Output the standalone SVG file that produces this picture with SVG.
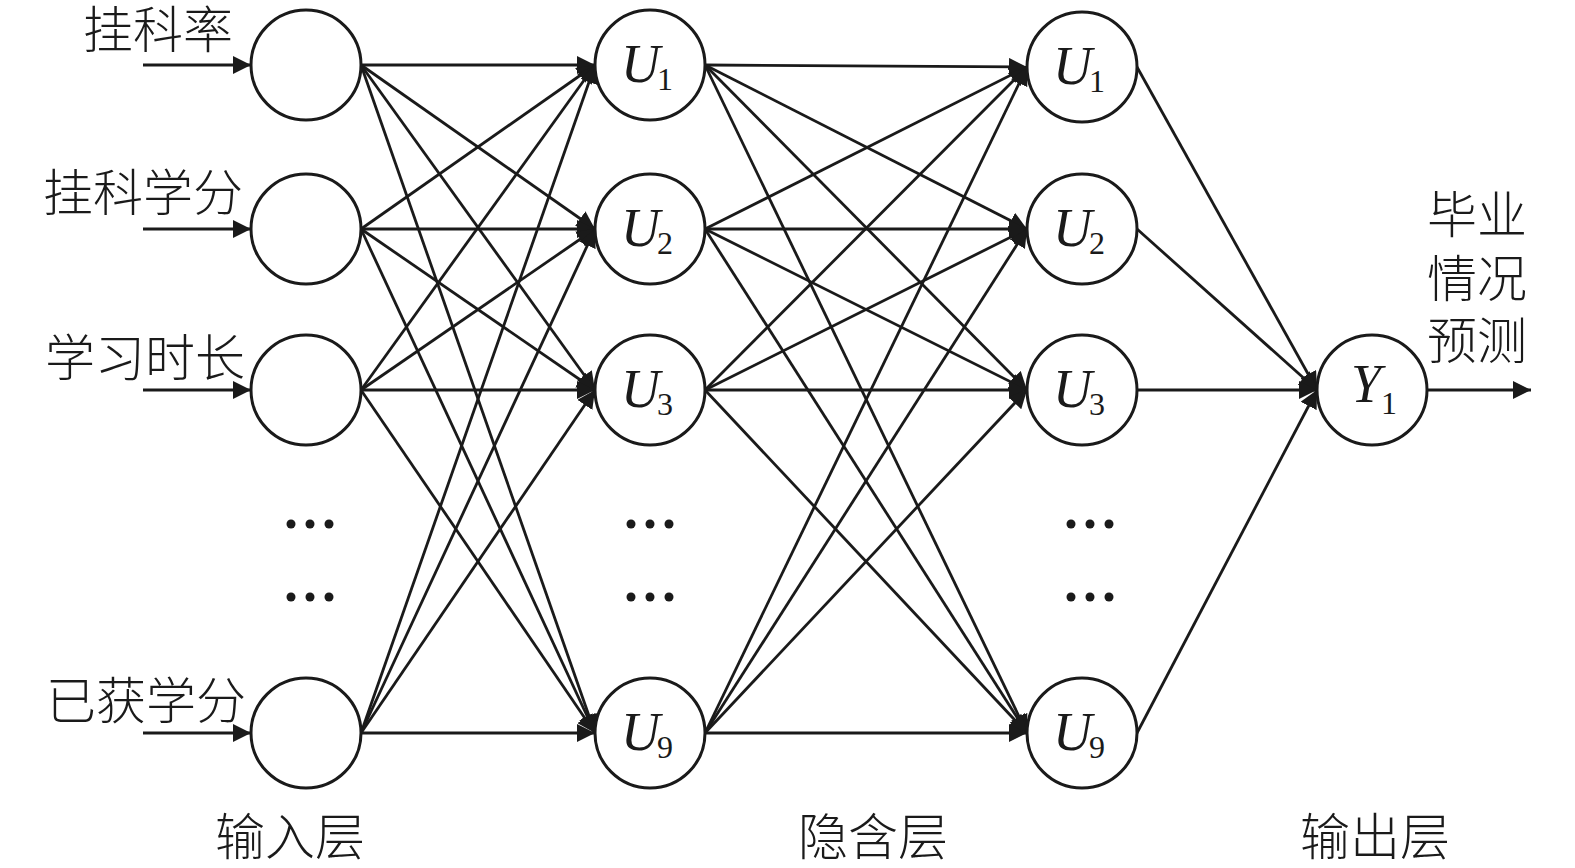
<svg xmlns="http://www.w3.org/2000/svg" width="1575" height="868" viewBox="0 0 1575 868">
<style>
.n{fill:#fff;stroke:#1a1a1a;stroke-width:3}
.c line{stroke:#1a1a1a;stroke-width:2.8}
.a{marker-end:url(#ah)}
.cj{font-family:"Liberation Serif","Noto Sans CJK SC",serif;font-size:50px;font-weight:300;fill:#1a1a1a}
.v{font-family:"Liberation Serif",serif;font-style:italic;font-size:54px;fill:#1a1a1a}
.s{font-family:"Liberation Serif",serif;font-size:32px;fill:#1a1a1a}
.d{fill:#1a1a1a}
</style>
<defs>
<marker id="ah" markerUnits="userSpaceOnUse" markerWidth="20" markerHeight="18" refX="18" refY="9" orient="auto">
<path d="M0,0 L18,9 L0,18 z" fill="#1a1a1a"/>
</marker>
</defs>
<rect width="1575" height="868" fill="#fff"/>
<g id="connectors" class="c">
<line class="a" x1="143" y1="65" x2="251" y2="65"/>
<line class="a" x1="143" y1="229" x2="251" y2="229"/>
<line class="a" x1="143" y1="390" x2="251" y2="390"/>
<line class="a" x1="143" y1="733" x2="251" y2="733"/>
<line class="a" x1="361" y1="65" x2="595" y2="65"/>
<line class="a" x1="361" y1="65" x2="595" y2="229"/>
<line class="a" x1="361" y1="65" x2="595" y2="390"/>
<line class="a" x1="361" y1="65" x2="595" y2="733"/>
<line class="a" x1="361" y1="229" x2="595" y2="65"/>
<line class="a" x1="361" y1="229" x2="595" y2="229"/>
<line class="a" x1="361" y1="229" x2="595" y2="390"/>
<line class="a" x1="361" y1="229" x2="595" y2="733"/>
<line class="a" x1="361" y1="390" x2="595" y2="65"/>
<line class="a" x1="361" y1="390" x2="595" y2="229"/>
<line class="a" x1="361" y1="390" x2="595" y2="390"/>
<line class="a" x1="361" y1="390" x2="595" y2="733"/>
<line class="a" x1="361" y1="733" x2="595" y2="65"/>
<line class="a" x1="361" y1="733" x2="595" y2="229"/>
<line class="a" x1="361" y1="733" x2="595" y2="390"/>
<line class="a" x1="361" y1="733" x2="595" y2="733"/>
<line class="a" x1="705" y1="65" x2="1027" y2="67"/>
<line class="a" x1="705" y1="65" x2="1027" y2="229"/>
<line class="a" x1="705" y1="65" x2="1027" y2="390"/>
<line class="a" x1="705" y1="65" x2="1027" y2="733"/>
<line class="a" x1="705" y1="229" x2="1027" y2="67"/>
<line class="a" x1="705" y1="229" x2="1027" y2="229"/>
<line class="a" x1="705" y1="229" x2="1027" y2="390"/>
<line class="a" x1="705" y1="229" x2="1027" y2="733"/>
<line class="a" x1="705" y1="390" x2="1027" y2="67"/>
<line class="a" x1="705" y1="390" x2="1027" y2="229"/>
<line class="a" x1="705" y1="390" x2="1027" y2="390"/>
<line class="a" x1="705" y1="390" x2="1027" y2="733"/>
<line class="a" x1="705" y1="733" x2="1027" y2="67"/>
<line class="a" x1="705" y1="733" x2="1027" y2="229"/>
<line class="a" x1="705" y1="733" x2="1027" y2="390"/>
<line class="a" x1="705" y1="733" x2="1027" y2="733"/>
<line class="a" x1="1137" y1="67" x2="1317" y2="390"/>
<line class="a" x1="1137" y1="229" x2="1317" y2="390"/>
<line class="a" x1="1137" y1="390" x2="1317" y2="390"/>
<line class="a" x1="1137" y1="733" x2="1317" y2="390"/>
<line class="a" x1="1427" y1="390" x2="1531" y2="390"/>
</g>
<g id="in1"><circle class="n" cx="306" cy="65" r="55"/><text class="cj" x="83" y="48">挂科率</text></g>
<g id="in2"><circle class="n" cx="306" cy="229" r="55"/><text class="cj" x="43" y="211">挂科学分</text></g>
<g id="in3"><circle class="n" cx="306" cy="390" r="55"/><text class="cj" x="45" y="376">学习时长</text></g>
<g id="in4"><circle class="n" cx="306" cy="733" r="55"/><text class="cj" x="46" y="719">已获学分</text></g>
<g id="in-dots"><circle class="d" cx="291" cy="524" r="4.5"/><circle class="d" cx="310" cy="524" r="4.5"/><circle class="d" cx="329" cy="524" r="4.5"/><circle class="d" cx="291" cy="597" r="4.5"/><circle class="d" cx="310" cy="597" r="4.5"/><circle class="d" cx="329" cy="597" r="4.5"/></g>
<g id="h1u1"><circle class="n" cx="650" cy="65" r="55"/><text class="v" x="621" y="82">U</text><text class="s" x="657" y="90">1</text></g>
<g id="h1u2"><circle class="n" cx="650" cy="229" r="55"/><text class="v" x="621" y="246">U</text><text class="s" x="657" y="254">2</text></g>
<g id="h1u3"><circle class="n" cx="650" cy="390" r="55"/><text class="v" x="621" y="407">U</text><text class="s" x="657" y="415">3</text></g>
<g id="h1u9"><circle class="n" cx="650" cy="733" r="55"/><text class="v" x="621" y="750">U</text><text class="s" x="657" y="758">9</text></g>
<g id="h1-dots"><circle class="d" cx="631" cy="524" r="4.5"/><circle class="d" cx="650" cy="524" r="4.5"/><circle class="d" cx="669" cy="524" r="4.5"/><circle class="d" cx="631" cy="597" r="4.5"/><circle class="d" cx="650" cy="597" r="4.5"/><circle class="d" cx="669" cy="597" r="4.5"/></g>
<g id="h2u1"><circle class="n" cx="1082" cy="67" r="55"/><text class="v" x="1053" y="84">U</text><text class="s" x="1089" y="92">1</text></g>
<g id="h2u2"><circle class="n" cx="1082" cy="229" r="55"/><text class="v" x="1053" y="246">U</text><text class="s" x="1089" y="254">2</text></g>
<g id="h2u3"><circle class="n" cx="1082" cy="390" r="55"/><text class="v" x="1053" y="407">U</text><text class="s" x="1089" y="415">3</text></g>
<g id="h2u9"><circle class="n" cx="1082" cy="733" r="55"/><text class="v" x="1053" y="750">U</text><text class="s" x="1089" y="758">9</text></g>
<g id="h2-dots"><circle class="d" cx="1071" cy="524" r="4.5"/><circle class="d" cx="1090" cy="524" r="4.5"/><circle class="d" cx="1109" cy="524" r="4.5"/><circle class="d" cx="1071" cy="597" r="4.5"/><circle class="d" cx="1090" cy="597" r="4.5"/><circle class="d" cx="1109" cy="597" r="4.5"/></g>
<g id="y1"><circle class="n" cx="1372" cy="390" r="55"/><text class="v" x="1351" y="402">Y</text><text class="s" x="1381" y="414">1</text></g>
<g id="out-label"><text class="cj" x="1427" y="233">毕业</text><text class="cj" x="1427" y="297">情况</text><text class="cj" x="1427" y="359">预测</text></g>
<g id="layer-labels"><text class="cj" x="215" y="855">输入层</text><text class="cj" x="798" y="855">隐含层</text><text class="cj" x="1300" y="855">输出层</text></g>
</svg>
